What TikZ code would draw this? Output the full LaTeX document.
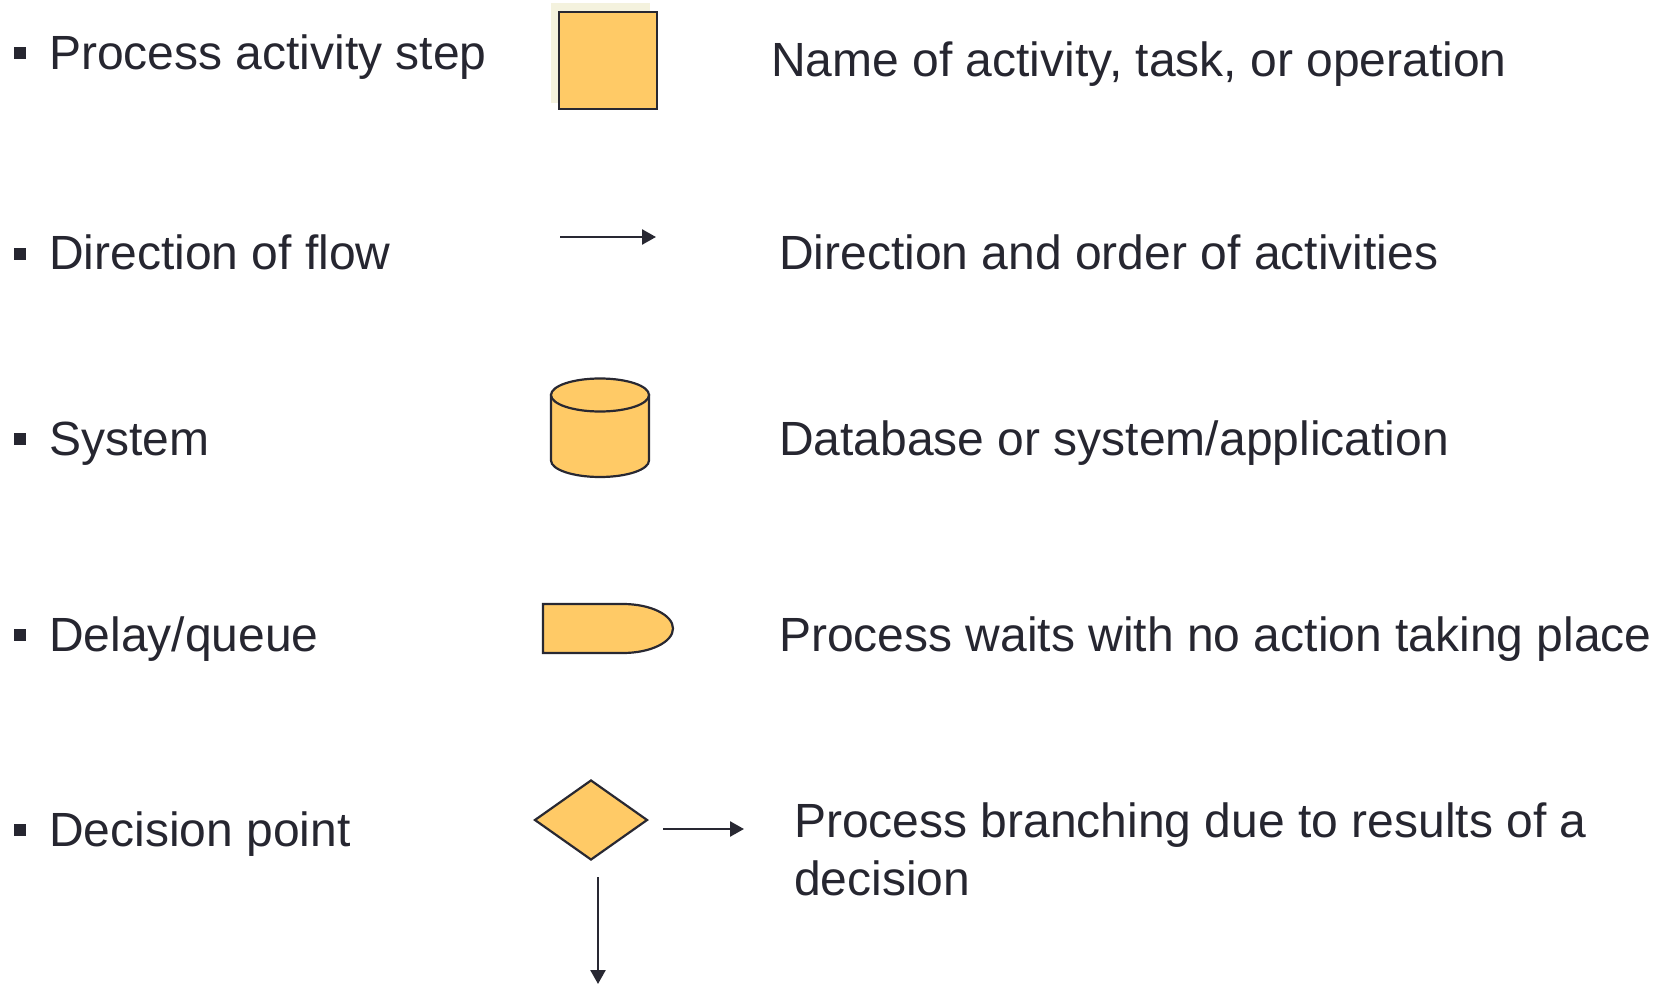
\documentclass[tikz,border=0pt]{standalone}
\usepackage{fontspec}
\setmainfont{Liberation Sans}
\usetikzlibrary{arrows.meta,shapes.geometric}
\definecolor{fillY}{RGB}{255,202,102}
\definecolor{edgeC}{RGB}{40,40,50}
\definecolor{txtC}{RGB}{38,38,48}
\definecolor{shadowC}{RGB}{244,242,222}
\tikzset{
  lbl/.style={anchor=base west, inner sep=0pt, text=txtC, font=\fontsize{48}{57}\selectfont},
  bul/.style={fill=txtC, minimum size=12pt, inner sep=0pt},
  shp/.style={fill=fillY, draw=edgeC, line width=2.2pt},
  arr/.style={draw=edgeC, line width=2.5pt, -{Triangle[length=14pt,width=15pt]}}
}
\begin{document}
\begin{tikzpicture}[x=1pt,y=-1pt]
\useasboundingbox (0,0) rectangle (1663,984);
% bullets
\foreach \n/\y in {b1/53.5, b2/254, b3/439, b4/635, b5/830}{
  \node[bul] (\n) at (19.5,\y) {};
}
% left labels
\node[lbl] (l1) at (49,70) {Process activity step};
\node[lbl] (l2) at (49,270) {Direction of flow};
\node[lbl] (l3) at (49,455) {System};
\node[lbl] (l4) at (49,651) {Delay/queue};
\node[lbl] (l5) at (49,846) {Decision point};
% right labels
\node[lbl] (r1) at (771,77) {Name of activity, task, or operation};
\node[lbl] (r2) at (779,270) {Direction and order of activities};
\node[lbl] (r3) at (779,455) {Database or system/application};
\node[lbl] (r4) at (779,651) {Process waits with no action taking place};
\node[lbl] (r5) at (794,837) {Process branching due to results of a};
\node[lbl] (r6) at (794,895) {decision};
% process box
\fill[shadowC] (551,3) rectangle (650,103);
\node[shp, minimum width=98pt, minimum height=97pt, inner sep=0pt] (proc) at (608,60.5) {};
% flow arrow
\coordinate (fa) at (560,237);
\coordinate (fb) at (656,237);
\draw[arr] (fa) -- (fb);
% cylinder
\filldraw[shp] (551,395) -- (551,460.5) arc[start angle=180,end angle=0,x radius=49,y radius=16.5] -- (649,395) -- cycle;
\filldraw[shp] (600,395) ellipse[x radius=49,y radius=16.5];
\coordinate (cyl) at (600,436);
% delay
\filldraw[shp] (543,604) -- (623,604) arc[start angle=-90,end angle=90,x radius=50,y radius=24.5] -- (543,653) -- cycle;
\coordinate (delay) at (600,628);
% decision
\node[shp, diamond, aspect=1.41, minimum width=113pt, minimum height=80pt, inner sep=0pt] (dec) at (591,820) {};
\coordinate (da) at (663,829);
\coordinate (db) at (744,829);
\draw[arr] (da) -- (db);
\coordinate (dc) at (598,877);
\coordinate (dd) at (598,984);
\draw[arr] (dc) -- (dd);
\end{tikzpicture}
\end{document}
